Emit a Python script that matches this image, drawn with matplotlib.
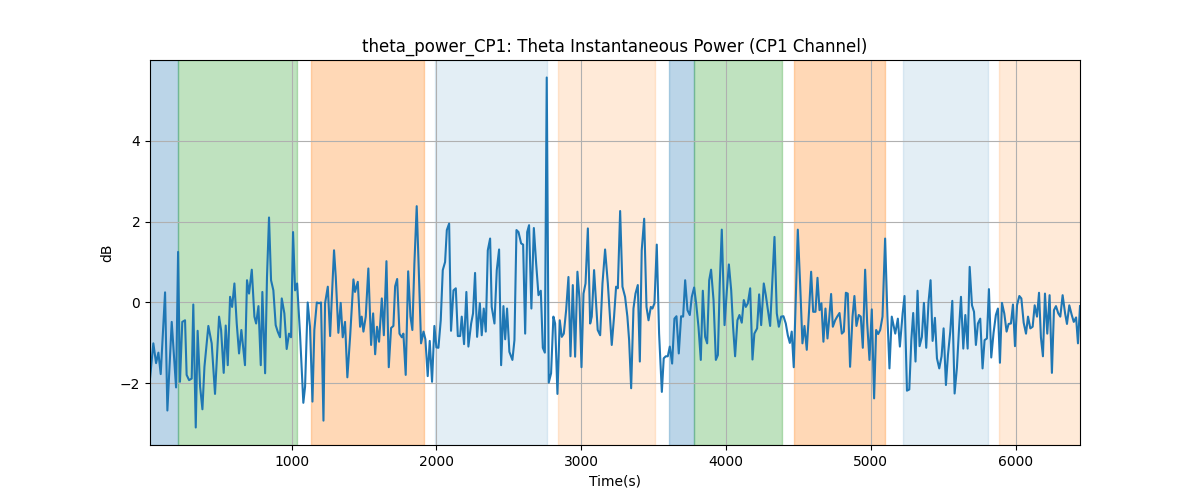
import numpy as np
import matplotlib
matplotlib.use("Agg")
import matplotlib.pyplot as plt

time_s = [
    22, 45, 64, 80, 96, 126, 142, 172, 202, 216, 229, 245, 264, 275, 292, 310, 321, 338, 351, 368,
    384, 398, 425, 448, 471, 499, 513, 531, 545, 559, 575, 589, 605, 621, 637, 653, 678, 692, 706, 725,
    743, 755, 771, 787, 798, 817, 830, 844, 858, 874, 890, 904, 920, 932, 950, 966, 982, 996, 1010, 1024,
    1038, 1058,
    1081, 1093, 1111, 1127, 1144, 1157, 1174, 1190, 1203, 1220, 1231, 1250, 1266, 1277, 1293, 1305, 1323, 1339,
    1353, 1369, 1385, 1404, 1427, 1438, 1457, 1473, 1484, 1496, 1512, 1530, 1549, 1563, 1577, 1590, 1604, 1623,
    1637, 1655, 1671, 1687, 1703, 1715, 1729, 1745, 1761, 1772, 1788, 1805, 1821, 1834, 1848, 1864, 1878, 1894,
    1911, 1924, 1940, 1954, 1970, 1986, 2000, 2014, 2030, 2044,
    2060, 2072, 2088, 2101, 2118, 2134, 2148, 2164, 2175, 2191, 2207, 2221, 2240, 2253, 2267, 2281, 2300, 2313,
    2327, 2341, 2355, 2371, 2382, 2401, 2417, 2433, 2447, 2463, 2475, 2488, 2504, 2525, 2539, 2553, 2567, 2585,
    2599, 2613, 2627, 2640, 2656, 2673, 2689, 2705, 2721, 2735, 2749, 2762, 2776, 2792, 2808, 2820, 2836, 2852,
    2866, 2880, 2896, 2912, 2926, 2942, 2958, 2974, 2988, 3002, 3016, 3030, 3046, 3062, 3073, 3089,
    3114, 3131, 3147, 3165, 3184, 3211, 3227, 3241, 3253, 3269, 3285, 3303, 3319, 3331, 3345, 3361, 3375, 3391,
    3405, 3418, 3435, 3451, 3465, 3481, 3492, 3506, 3522, 3538, 3557, 3570, 3584, 3598, 3612, 3628, 3644, 3658,
    3674, 3690, 3704, 3718, 3734, 3750, 3764, 3780, 3794, 3810, 3826, 3840, 3856, 3870, 3884, 3897, 3914, 3930,
    3944, 3957, 3971, 3990, 4006, 4020, 4036, 4049, 4063, 4079, 4093, 4109, 4123, 4137, 4151,
    4167, 4183, 4196, 4215, 4229, 4243, 4261, 4275, 4305, 4335, 4351, 4365, 4381, 4397, 4413, 4427, 4441, 4454,
    4468, 4482, 4496, 4512, 4528, 4542, 4558, 4574, 4588, 4602, 4618, 4632, 4646, 4659, 4673, 4687, 4701, 4712,
    4726, 4738, 4754, 4768, 4784, 4800, 4814, 4828, 4841, 4857, 4874, 4887, 4901, 4917, 4931, 4945, 4961, 4975,
    4991, 5007, 5023, 5037, 5051, 5065, 5081, 5099, 5115, 5129, 5145,
    5169, 5187, 5201, 5220, 5233, 5250, 5266, 5280, 5293, 5309, 5323, 5337, 5353, 5367, 5383, 5399, 5413, 5427,
    5443, 5457, 5473, 5489, 5503, 5519, 5533, 5549, 5563, 5579, 5595, 5609, 5623, 5639, 5653, 5669, 5683, 5699,
    5713, 5726, 5740, 5756, 5772, 5786, 5802, 5816, 5832, 5848, 5864, 5878, 5892, 5906, 5922, 5938, 5952, 5968,
    5982, 5996, 6010, 6026, 6040, 6056, 6072, 6086, 6102, 6118, 6132, 6148, 6162, 6175, 6189, 6203, 6219, 6235,
    6251, 6265, 6279, 6295, 6309, 6325, 6342, 6355, 6371, 6388, 6402, 6418, 6431, 6445,
]

power_db = [
    -1.88, -1.01, -1.5, -1.24, -1.77, 0.25, -2.67, -0.48, -2.1, 1.25, -1.96, -0.48, -0.44, -1.79, -1.92, -1.88, -0.05, -3.09, -0.7, -2.08,
    -2.64, -1.59, -0.58, -1.01, -2.26, -0.35, -0.68, -1.74, -0.57, -1.55, 0.14, -0.11, 0.47, -0.52, -1.26, -0.68, -1.55, 0.55, 0.22, 0.81,
    -0.35, -0.52, -0.09, -1.55, 0.26, -1.75, 0.63, 2.1, 0.55, 0.3, -0.56, -0.72, -0.86, 0.1, -0.27, -1.15, -0.77, -0.86, 1.74, 0.3,
    0.47, -0.77,
    -2.48, -2.08, 0.0, -0.6, -2.45, -0.68, 0.0, -0.02, 0.0, -2.92, -0.02, 0.39, -0.83, 0.06, 1.29, 0.63, -0.75, -0.01,
    -0.86, -0.48, -1.85, -0.85, 0.57, 0.26, 0.51, -0.6, -0.35, -0.72, -0.35, 0.84, -1.05, -0.27, -1.28, -0.6, -0.97, 0.1,
    -0.81, 1.02, -1.6, -0.63, -0.58, 0.4, 0.58, -0.77, -0.86, -0.77, -1.79, 0.77, -0.35, -0.68, 0.96, 2.38, 0.84, -1.01,
    -0.72, -0.91, -1.82, -0.95, -1.96, -0.58, -1.11, -1.12, -0.44, 0.8,
    1.0, 1.79, 1.95, -0.7, 0.3, 0.35, -0.83, -0.83, -0.35, -1.03, 0.26, -1.09, -0.52, -0.27, 0.73, -0.85, -0.02, -0.81,
    -0.15, -0.72, 1.29, 1.58, -0.11, -0.52, 0.8, 1.31, -1.55, -0.09, -0.91, -0.15, -1.22, -1.42, -0.93, 1.79, 1.74, 1.46,
    1.43, -0.77, 1.74, 1.91, -0.15, 1.84, 0.96, 0.18, 0.29, -1.12, -1.24, 5.56, -1.98, -1.75, -0.35, -0.52, -2.26, -0.44,
    -0.85, -0.77, -0.19, 0.63, -1.33, 0.43, -1.34, 0.76, 0.1, -1.6, 0.22, 0.47, 1.83, -0.52, -0.35, 0.8,
    -0.68, -0.81, 0.47, 1.31, 0.47, -1.05, -0.35, 0.39, 0.35, 2.26, 0.39, 0.14, -0.35, -0.93, -2.12, -0.15, 0.22, 0.43,
    -1.46, 1.29, 2.07, -0.11, -0.44, -0.11, -0.15, -0.02, 1.43, -0.77, -2.21, -1.38, -1.33, -1.33, -1.09, -1.51, -0.4, -0.34,
    -1.26, -0.34, -0.35, 0.55, -0.19, -0.31, 0.14, 0.37, -0.02, -0.6, -1.42, 0.29, -0.85, -1.01, 0.55, 0.81, 0.06, -1.42,
    -1.3, 0.47, 1.8, -0.56, 0.3, 0.94, 0.3, -0.6, -1.33, -0.44, -0.31, -0.5, 0.06, -0.11, -0.02,
    0.35, -1.41, -0.77, -0.64, 0.2, -0.56, 0.47, 0.18, -0.58, 1.62, -0.27, -0.6, -0.35, -0.34, -0.52, -0.81, -1.0, -0.72,
    -1.6, 0.1, 1.8, 0.47, -1.01, -0.58, -1.17, -0.19, 0.76, -0.23, -0.23, 0.61, -0.19, -0.02, -0.97, -0.15, -0.89, -0.44,
    0.21, -0.6, -0.44, -0.35, -0.26, -0.77, -0.72, 0.24, 0.22, -1.59, -0.35, 0.16, -0.58, -0.31, -0.35, -1.12, 0.81, -0.5,
    -1.42, -0.17, -2.37, -0.68, -0.78, -0.68, -0.35, 1.58, -0.35, -1.63, -0.35,
    -0.77, -0.4, -1.09, -0.27, 0.16, -2.18, -2.15, -0.93, -0.26, -1.46, 0.29, -1.08, -0.85, -0.01, -1.12, 0.02, 0.55, -0.95,
    -0.38, -1.38, -1.63, -1.33, -0.64, -2.04, -1.3, -0.72, 0.04, -2.25, -1.61, -0.68, 0.14, -1.14, -0.31, -1.14, 0.88, -0.07,
    -0.23, -1.05, -0.52, -0.4, -1.63, -0.93, -0.89, 0.33, -1.36, -0.75, -0.31, -0.15, -1.49, -0.01, -0.27, -0.72, -0.53, -0.52,
    -0.05, -1.08, -0.07, 0.16, 0.1, -0.5, -0.77, -0.35, -0.64, -0.6, -0.07, -0.35, 0.24, -0.86, -1.33, 0.22, -0.77, 0.18,
    -1.74, -0.19, -0.09, -0.27, -0.35, 0.18, -0.27, -0.53, -0.07, -0.31, -0.48, -0.37, -1.01, -0.09,
]

# shaded segments (start, end in seconds) and their kind
span_start = [0, 218, 1134, 1991, 2843, 3608, 3778, 4467, 5224, 5883]
span_end = [218, 1040, 1913, 2762, 3511, 3778, 4386, 5095, 5809, 6460]
span_kind = ["blue", "green", "orange", "lightblue", "lightorange",
             "blue", "green", "orange", "lightblue", "lightorange"]

kind_style = {
    "blue": ("tab:blue", 0.3),
    "green": ("tab:green", 0.3),
    "orange": ("tab:orange", 0.3),
    "lightblue": ("tab:blue", 0.12),
    "lightorange": ("tab:orange", 0.16),
}

fig, ax = plt.subplots(figsize=(12, 5), dpi=100)
for s, e, k in zip(span_start, span_end, span_kind):
    c, a = kind_style[k]
    ax.axvspan(s, e, color=c, alpha=a, linewidth=1)

ax.plot(time_s, power_db, color="tab:blue", linewidth=1.5)
ax.set_xlim(time_s[0], time_s[-1])
ax.grid(True)
ax.set_title("theta_power_CP1: Theta Instantaneous Power (CP1 Channel)")
ax.set_xlabel("Time(s)")
ax.set_ylabel("dB")
fig.savefig("out.png")
